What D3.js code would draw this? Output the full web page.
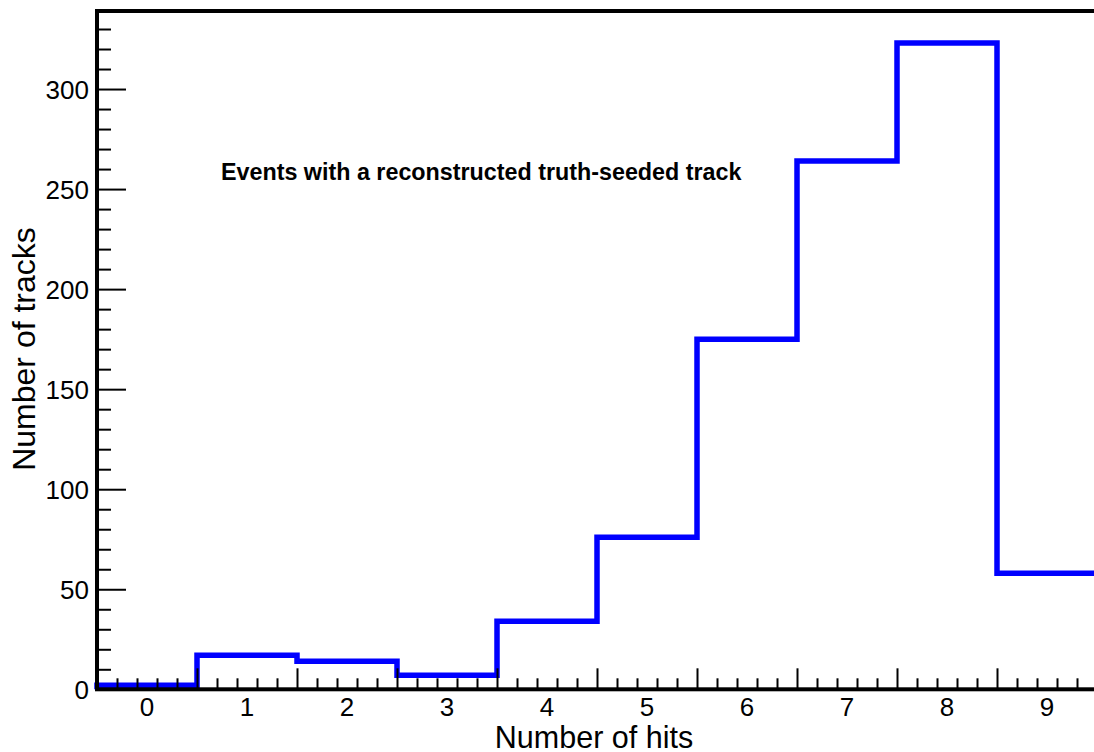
<!DOCTYPE html>
<html>
<head>
<meta charset="utf-8">
<script src="https://cdn.jsdelivr.net/npm/d3@7"></script>
<style>
  html, body { margin: 0; padding: 0; background: #fff; }
  svg { display: block; }
  text { font-family: "Liberation Sans", Arial, sans-serif; fill: #000; }
</style>
</head>
<body>
<svg id="chart" width="1094" height="752"></svg>
<script>
// Track hit multiplicity histogram
const hitBins = [0, 1, 2, 3, 4, 5, 6, 7, 8, 9];
const trackCounts = [2, 17, 14, 7, 34, 76, 175, 264, 323, 58];
const yTickValues = [0, 50, 100, 150, 200, 250, 300];
const xTickLabels = ["0", "1", "2", "3", "4", "5", "6", "7", "8", "9"];
const xTitle = "Number of hits";
const yTitle = "Number of tracks";
const note = "Events with a reconstructed truth-seeded track";

const svg = d3.select("#chart");
const W = 1094, H = 752;
const frame = { left: 97, right: 1097, top: 11, bottom: 689.3 };

const x = d3.scaleLinear().domain([-0.5, 9.5]).range([frame.left, frame.right]);
const y = d3.scaleLinear().domain([0, 339]).range([frame.bottom, frame.top]);

svg.append("rect").attr("width", W).attr("height", H).attr("fill", "#fff");

// Histogram outline (step line over bin edges)
const pts = [[-0.5, 0]];
hitBins.forEach((b, i) => pts.push([b - 0.5, trackCounts[i]]));
pts.push([hitBins[hitBins.length - 1] + 0.5, trackCounts[trackCounts.length - 1]]);
const step = d3.line().x(d => x(d[0])).y(d => y(d[1])).curve(d3.curveStepAfter);
svg.append("path")
  .attr("d", step(pts))
  .attr("fill", "none")
  .attr("stroke", "#0000ff")
  .attr("stroke-width", 5.5)
  .attr("stroke-linejoin", "miter")
  .attr("stroke-linecap", "butt");

// Frame
svg.append("rect")
  .attr("x", frame.left).attr("y", frame.top)
  .attr("width", frame.right - frame.left).attr("height", frame.bottom - frame.top)
  .attr("fill", "none").attr("stroke", "#000").attr("stroke-width", 4);

// Y axis: major ticks every 50, minor every 10, drawn inward
const yMinor = d3.range(0, 340, 10).filter(v => v % 50 !== 0);
const yAxisMajor = d3.axisRight(y).tickValues(yTickValues).tickSize(28).tickFormat("");
const yAxisMinor = d3.axisRight(y).tickValues(yMinor).tickSize(13).tickFormat("");
[yAxisMajor, yAxisMinor].forEach(ax => {
  const g = svg.append("g").attr("transform", `translate(${frame.left + 1},0)`).call(ax);
  g.select(".domain").remove();
  g.selectAll(".tick line").attr("stroke", "#000").attr("stroke-width", 2);
});
svg.append("g").selectAll("text").data(yTickValues).join("text")
  .attr("x", 89).attr("y", d => y(d) + 1)
  .attr("text-anchor", "end").attr("dominant-baseline", "central")
  .attr("font-size", 26)
  .text(d => d);

// X axis: major ticks at bin edges, minor ticks every 0.2, drawn inward
const xMajor = d3.range(0.5, 9.5, 1);
const xMinor = d3.range(-0.3, 9.5, 0.2).filter(v => Math.abs(((v + 0.5) % 1 + 1) % 1) > 0.05 && Math.abs(((v + 0.5) % 1 + 1) % 1) < 0.95);
const xAxisMajor = d3.axisTop(x).tickValues(xMajor).tickSize(20).tickFormat("");
const xAxisMinor = d3.axisTop(x).tickValues(xMinor).tickSize(10).tickFormat("");
[xAxisMajor, xAxisMinor].forEach(ax => {
  const g = svg.append("g").attr("transform", `translate(0,${frame.bottom - 1})`).call(ax);
  g.select(".domain").remove();
  g.selectAll(".tick line").attr("stroke", "#000").attr("stroke-width", 2);
});
svg.append("g").selectAll("text").data(hitBins).join("text")
  .attr("x", d => x(d)).attr("y", 716)
  .attr("text-anchor", "middle")
  .attr("font-size", 26)
  .text((d, i) => xTickLabels[i]);

// Axis titles
svg.append("text")
  .attr("x", 594).attr("y", 748)
  .attr("text-anchor", "middle")
  .attr("font-size", 30.5)
  .text(xTitle);
svg.append("text")
  .attr("transform", "translate(35,349) rotate(-90)")
  .attr("text-anchor", "middle")
  .attr("font-size", 32)
  .text(yTitle);

// Annotation
svg.append("text")
  .attr("x", 221).attr("y", 180)
  .attr("font-size", 23.3)
  .attr("font-weight", "bold")
  .text(note);
</script>
</body>
</html>
